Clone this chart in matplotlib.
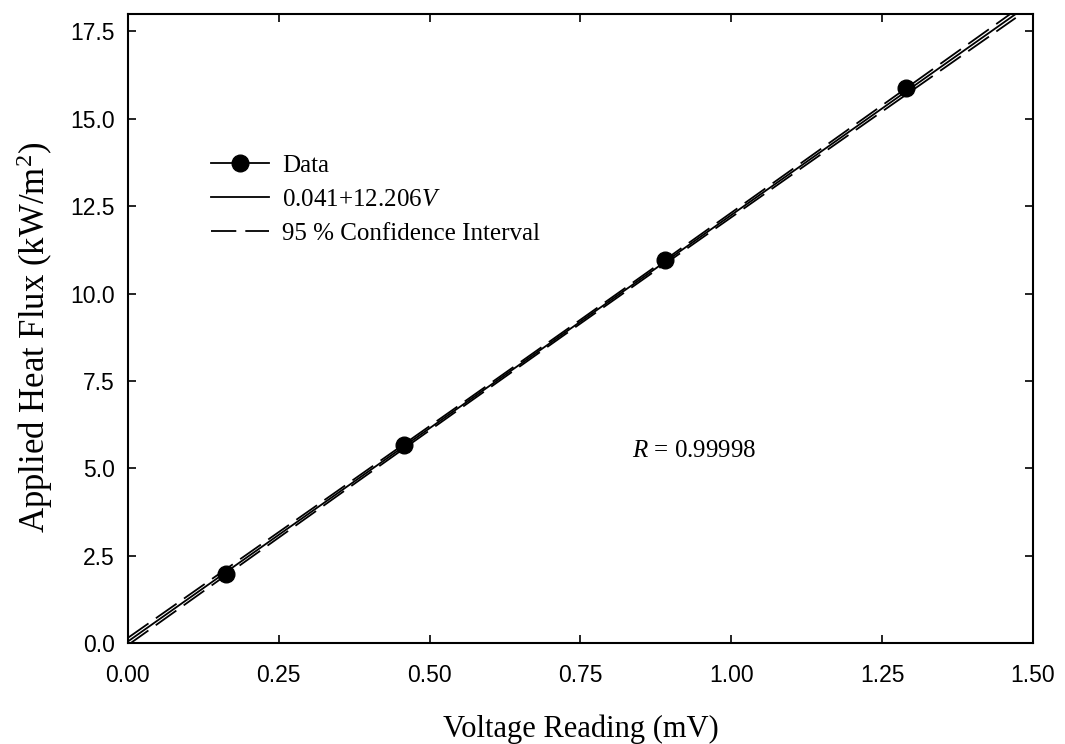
import numpy as np
import matplotlib
matplotlib.use("Agg")
import matplotlib.pyplot as plt
from matplotlib.lines import Line2D

# Data
voltage = [0.162, 0.458, 0.890, 1.290]
heat_flux = [1.98, 5.66, 10.96, 15.87]
intercept = 0.041
slope = 12.206
resid_se = 0.025      # estimated residual std. error for the 95% band
t_crit = 4.303        # t(0.975, df=2)
r_value = "0.99998"

xticks = [0.00, 0.25, 0.50, 0.75, 1.00, 1.25, 1.50]
yticks = [0.0, 2.5, 5.0, 7.5, 10.0, 12.5, 15.0, 17.5]

plt.rcParams['mathtext.fontset'] = 'custom'
plt.rcParams['mathtext.rm'] = 'Liberation Serif'
plt.rcParams['mathtext.it'] = 'Liberation Serif:italic'

fig = plt.figure(figsize=(10.65, 7.44), dpi=100)
ax = fig.add_axes([0.120, 0.1358, 0.850, 0.8454])

xmax_line = (18.0 - intercept) / slope
xs = np.linspace(0.0, xmax_line, 200)
fit = intercept + slope * xs
n = len(voltage)
xbar = np.mean(voltage)
sxx = np.sum((np.array(voltage) - xbar) ** 2)
half = t_crit * resid_se * np.sqrt(1.0 / n + (xs - xbar) ** 2 / sxx)

ax.plot(xs, fit, color='black', lw=1.3, solid_capstyle='butt')
ax.plot(xs, fit + half, color='black', lw=1.3, dashes=(14, 5))
ax.plot(xs, fit - half, color='black', lw=1.3, dashes=(14, 5))
ax.plot(voltage, heat_flux, 'o', color='black', markersize=12, zorder=5)

ax.set_xlim(0, 1.5)
ax.set_ylim(0, 18)
ax.set_xticks(xticks)
ax.set_yticks(yticks)
ax.set_xticklabels([f"{v:.2f}" for v in xticks], fontfamily='Liberation Sans', fontsize=16.5)
ax.set_yticklabels([f"{v:.1f}" for v in yticks], fontfamily='Liberation Sans', fontsize=16.5)
ax.tick_params(direction='in', length=6, width=1.2, top=True, right=True)
ax.tick_params(axis='x', pad=15)
ax.tick_params(axis='y', pad=9.5)
for s in ax.spines.values():
    s.set_linewidth(1.5)

ax.set_xlabel("Voltage Reading (mV)", fontfamily='Liberation Serif', fontsize=22, labelpad=20)
ax.set_ylabel(r"Applied Heat Flux (kW/m$^2$)", fontfamily='Liberation Serif', fontsize=25)
ax.yaxis.set_label_coords(-0.080, 0.486)

handles = [
    Line2D([], [], color='black', lw=1.3, marker='o', markersize=12),
    Line2D([], [], color='black', lw=1.3),
    Line2D([], [], color='black', lw=1.3, dashes=(14, 5)),
]
labels = ["Data", r"0.041+12.206$\it{V}$", "95 % Confidence Interval"]
ax.legend(handles, labels, loc='upper left', bbox_to_anchor=(0.0776, 0.797),
          frameon=False, prop={'family': 'Liberation Serif', 'size': 18},
          handlelength=2.32, handletextpad=0.55, labelspacing=0.46, borderpad=0,
          numpoints=1)

ax.text(0.557, 0.305, r"$\it{R}$ = " + r_value, transform=ax.transAxes,
        ha='left', va='center', fontfamily='Liberation Serif', fontsize=18)

fig.savefig("out.png", dpi=100)
